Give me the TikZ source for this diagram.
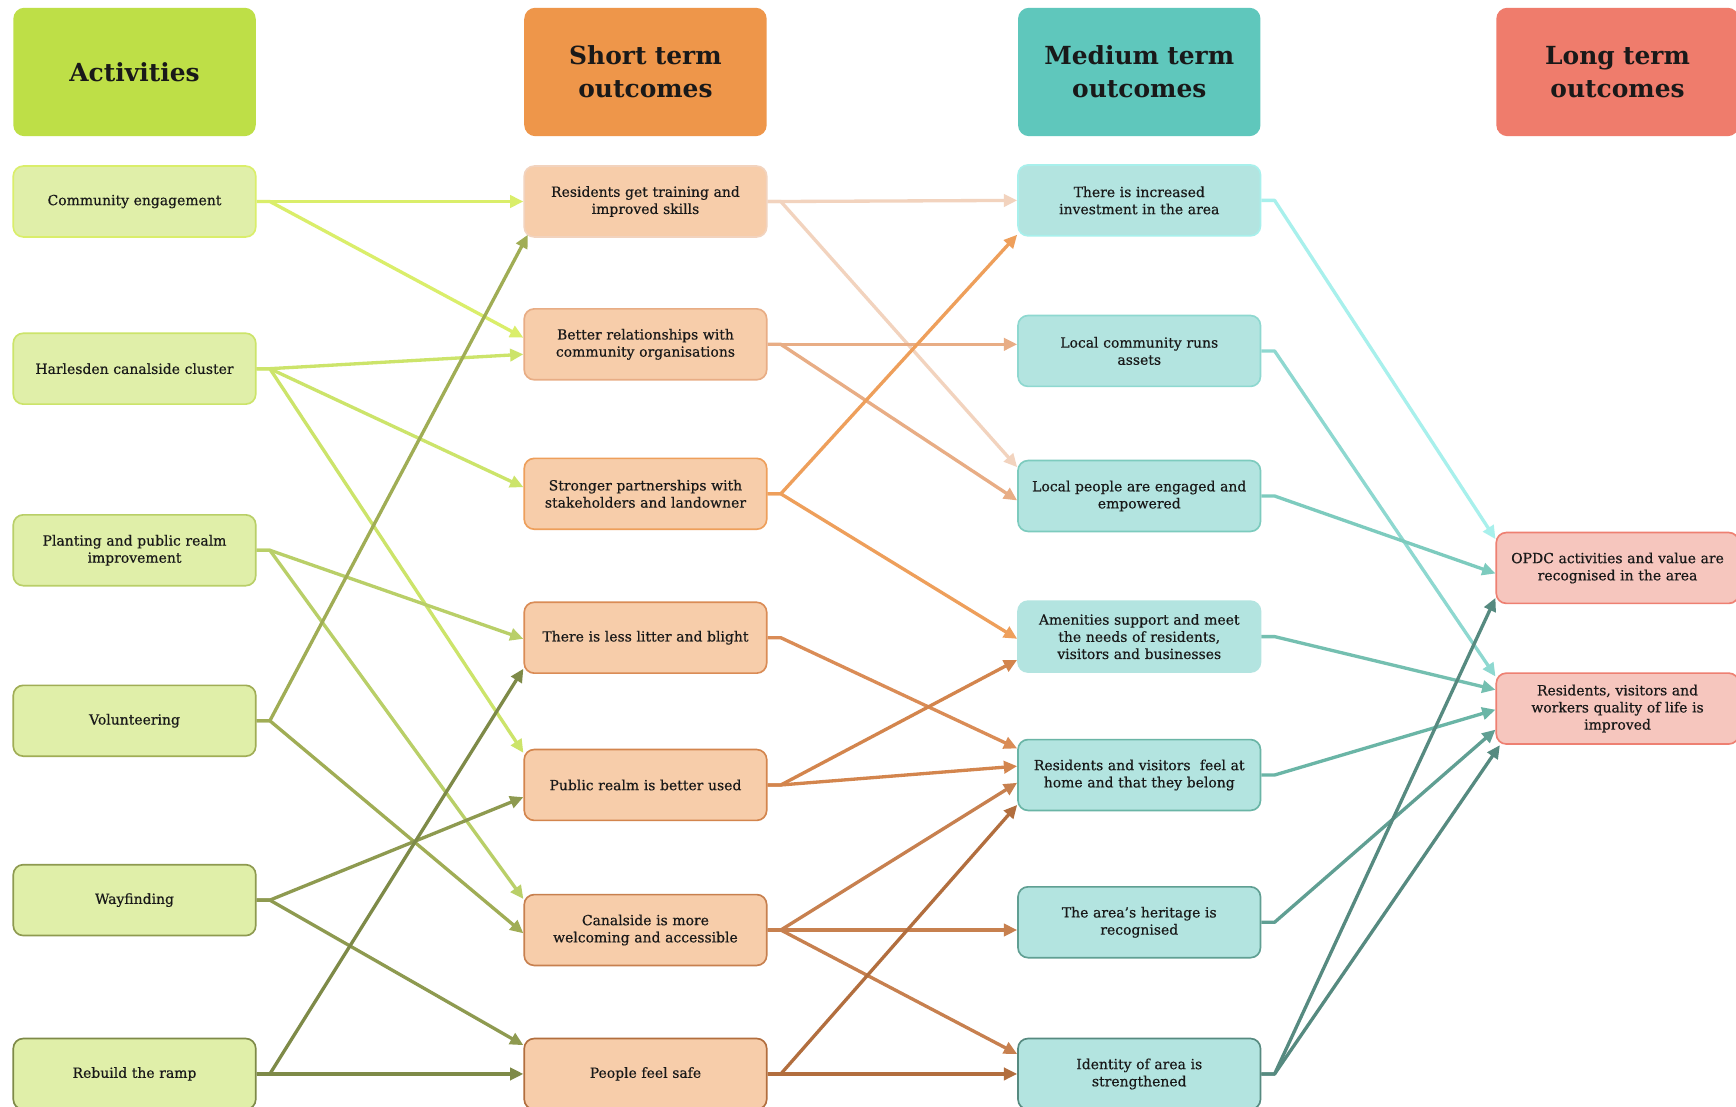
\documentclass[tikz,border=0pt]{standalone}
\usepackage{fontspec}
\setmainfont{DejaVu Serif}
\newfontfamily\boxfont{DejaVu Serif}[FakeBold=0.5]
\usetikzlibrary{arrows.meta,calc}
% header fills
\definecolor{hA}{HTML}{BEDF47}
\definecolor{hS}{HTML}{EE964A}
\definecolor{hM}{HTML}{5FC7BC}
\definecolor{hL}{HTML}{EF7C6C}
% node fills
\definecolor{fA}{HTML}{E0EFA9}
\definecolor{fS}{HTML}{F7CDAA}
\definecolor{fM}{HTML}{B3E4E0}
\definecolor{fL}{HTML}{F6C6BE}
% activity colours
\definecolor{a1}{HTML}{DAEE6A}
\definecolor{a2}{HTML}{CCE46A}
\definecolor{a3}{HTML}{B9CF68}
\definecolor{a4}{HTML}{A0AD55}
\definecolor{a5}{HTML}{8E9A50}
\definecolor{a6}{HTML}{7E8A48}
% short colours
\definecolor{s1}{HTML}{F2D3BE}
\definecolor{s2}{HTML}{E8AD85}
\definecolor{s3}{HTML}{EE9F5B}
\definecolor{s4}{HTML}{DA8C56}
\definecolor{s5}{HTML}{D3854D}
\definecolor{s6}{HTML}{C7804F}
\definecolor{s7}{HTML}{B26E3E}
% medium colours
\definecolor{m1}{HTML}{A8F0EC}
\definecolor{m2}{HTML}{8ED8D0}
\definecolor{m3}{HTML}{7DCBBE}
\definecolor{m4}{HTML}{74BFB0}
\definecolor{m5}{HTML}{6AB5A6}
\definecolor{m6}{HTML}{609F93}
\definecolor{m7}{HTML}{568A80}
\definecolor{bL}{HTML}{EE8072}
\begin{document}
\begin{tikzpicture}[x=1pt,y=-1pt,
  box/.style={rounded corners=9pt, minimum width=219pt, minimum height=64pt, text width=212pt, align=center, font=\boxfont\fontsize{12.6}{15.5}\selectfont, line width=1.5pt, inner sep=2pt, text=black!90},
  head/.style={rounded corners=10pt, minimum width=219pt, minimum height=116pt, text width=210pt, align=center, font=\fontsize{22.5}{29.5}\selectfont\bfseries, inner sep=2pt, text=black!90},
  con/.style={line width=3pt, -{Triangle[length=12pt,width=11pt]}, line join=round}
]
\useasboundingbox (0,0) rectangle (1568,999);
\clip (0,0) rectangle (1568,999);
\fill[white] (0,0) rectangle (1568,999);

% headers
\node[head, fill=hA] (hA) at (121.5,65) {Activities};
\node[head, fill=hS] (hS) at (583,65) {Short term\\outcomes};
\node[head, fill=hM] (hM) at (1029,65) {Medium term\\outcomes};
\node[head, fill=hL] (hL) at (1461,65) {Long term\\outcomes};

% activities
\node[box, fill=fA, draw=a1] (A1) at (121.5,182) {Community engagement};
\node[box, fill=fA, draw=a2] (A2) at (121.5,333) {Harlesden canalside cluster};
\node[box, fill=fA, draw=a3] (A3) at (121.5,497) {Planting and public realm\\improvement};
\node[box, fill=fA, draw=a4] (A4) at (121.5,651) {Volunteering};
\node[box, fill=fA, draw=a5] (A5) at (121.5,813) {Wayfinding};
\node[box, fill=fA, draw=a6] (A6) at (121.5,970) {Rebuild the ramp};

% short term
\node[box, fill=fS, draw=s1] (S1) at (583,182) {Residents get training and\\improved skills};
\node[box, fill=fS, draw=s2] (S2) at (583,311) {Better relationships with\\community organisations};
\node[box, fill=fS, draw=s3] (S3) at (583,446) {Stronger partnerships with\\stakeholders and landowner};
\node[box, fill=fS, draw=s4] (S4) at (583,576) {There is less litter and blight};
\node[box, fill=fS, draw=s5] (S5) at (583,709) {Public realm is better used};
\node[box, fill=fS, draw=s6] (S6) at (583,840) {Canalside is more\\welcoming and accessible};
\node[box, fill=fS, draw=s7] (S7) at (583,970) {People feel safe};

% medium term
\node[box, fill=fM, draw=m1] (M1) at (1029,181) {There is increased\\investment in the area};
\node[box, fill=fM, draw=m2] (M2) at (1029,317) {Local community runs\\assets};
\node[box, fill=fM, draw=m3] (M3) at (1029,448) {Local people are engaged and\\empowered};
\node[box, fill=fM, draw=fM] (M4) at (1029,575) {Amenities support and meet\\the needs of residents,\\visitors and businesses};
\node[box, fill=fM, draw=m5] (M5) at (1029,700) {Residents and visitors\ \ feel at\\home and that they belong};
\node[box, fill=fM, draw=m6] (M6) at (1029,833) {The area’s heritage is\\recognised};
\node[box, fill=fM, draw=m7] (M7) at (1029,970) {Identity of area is\\strengthened};

% long term
\node[box, fill=fL, draw=bL] (L1) at (1461,513) {OPDC activities and value are\\recognised in the area};
\node[box, fill=fL, draw=bL] (L2) at (1461,640) {Residents, visitors and\\workers quality of life is\\improved};

% activities -> short
\draw[con, a1] (A1.east) -- ++(12,0) -- (S1.west);
\draw[con, a1] (A1.east) -- ++(12,0) -- ($(S2.west)+(0,-6)$);
\draw[con, a2] (A2.east) -- ++(12,0) -- ($(S2.west)+(0,9)$);
\draw[con, a2] (A2.east) -- ++(12,0) -- ($(S3.west)+(0,-6)$);
\draw[con, a2] (A2.east) -- ++(12,0) -- ($(S5.west)+(0,-29)$);
\draw[con, a3] (A3.east) -- ++(12,0) -- ($(S4.west)+(0,1)$);
\draw[con, a3] (A3.east) -- ++(12,0) -- ($(S6.west)+(0,-28)$);
\draw[con, a4] (A4.east) -- ++(12,0) -- ($(S1.west)+(4,30)$);
\draw[con, a4] (A4.east) -- ++(12,0) -- ($(S6.west)+(0,3)$);
\draw[con, a5] (A5.east) -- ++(12,0) -- ($(S5.west)+(0,11)$);
\draw[con, a5] (A5.east) -- ++(12,0) -- ($(S7.west)+(0,-26)$);
\draw[con, a6] (A6.east) -- ++(12,0) -- ($(S4.west)+(0,28)$);
\draw[con, a6] (A6.east) -- ++(12,0) -- (S7.west);

% short -> medium
\draw[con, s1] (S1.east) -- ++(12,0) -- (M1.west);
\draw[con, s1] (S1.east) -- ++(12,0) -- ($(M3.west)+(0,-26)$);
\draw[con, s2] (S2.east) -- ++(12,0) -- ($(M2.west)+(0,-6)$);
\draw[con, s2] (S2.east) -- ++(12,0) -- ($(M3.west)+(0,4)$);
\draw[con, s3] (S3.east) -- ++(12,0) -- ($(M1.west)+(0,31)$);
\draw[con, s3] (S3.east) -- ++(12,0) -- ($(M4.west)+(0,2)$);
\draw[con, s4] (S4.east) -- ++(12,0) -- ($(M5.west)+(0,-24)$);
\draw[con, s5] (S5.east) -- ++(12,0) -- ($(M4.west)+(0,21)$);
\draw[con, s5] (S5.east) -- ++(12,0) -- ($(M5.west)+(0,-8)$);
\draw[con, s6] (S6.east) -- ++(12,0) -- ($(M5.west)+(0,7)$);
\draw[con, s6] (S6.east) -- ++(12,0) -- ($(M6.west)+(0,7)$);
\draw[con, s6] (S6.east) -- ++(12,0) -- ($(M7.west)+(0,-18)$);
\draw[con, s7] (S7.east) -- ++(12,0) -- ($(M5.west)+(0,27)$);
\draw[con, s7] (S7.east) -- ++(12,0) -- (M7.west);

% medium -> long
\draw[con, m1] (M1.east) -- ++(12,0) -- ($(L1.west)+(0,-26)$);
\draw[con, m2] (M2.east) -- ++(12,0) -- ($(L2.west)+(0,-29)$);
\draw[con, m3] (M3.east) -- ++(12,0) -- ($(L1.west)+(0,5)$);
\draw[con, m4] (M4.east) -- ++(12,0) -- ($(L2.west)+(0,-17)$);
\draw[con, m5] (M5.east) -- ++(12,0) -- ($(L2.west)+(0,1)$);
\draw[con, m6] (M6.east) -- ++(12,0) -- ($(L2.west)+(0,19)$);
\draw[con, m7] (M7.east) -- ++(12,0) -- ($(L1.west)+(0,27)$);
\draw[con, m7] (M7.east) -- ++(12,0) -- ($(L2.west)+(4,33)$);
\end{tikzpicture}
\end{document}
